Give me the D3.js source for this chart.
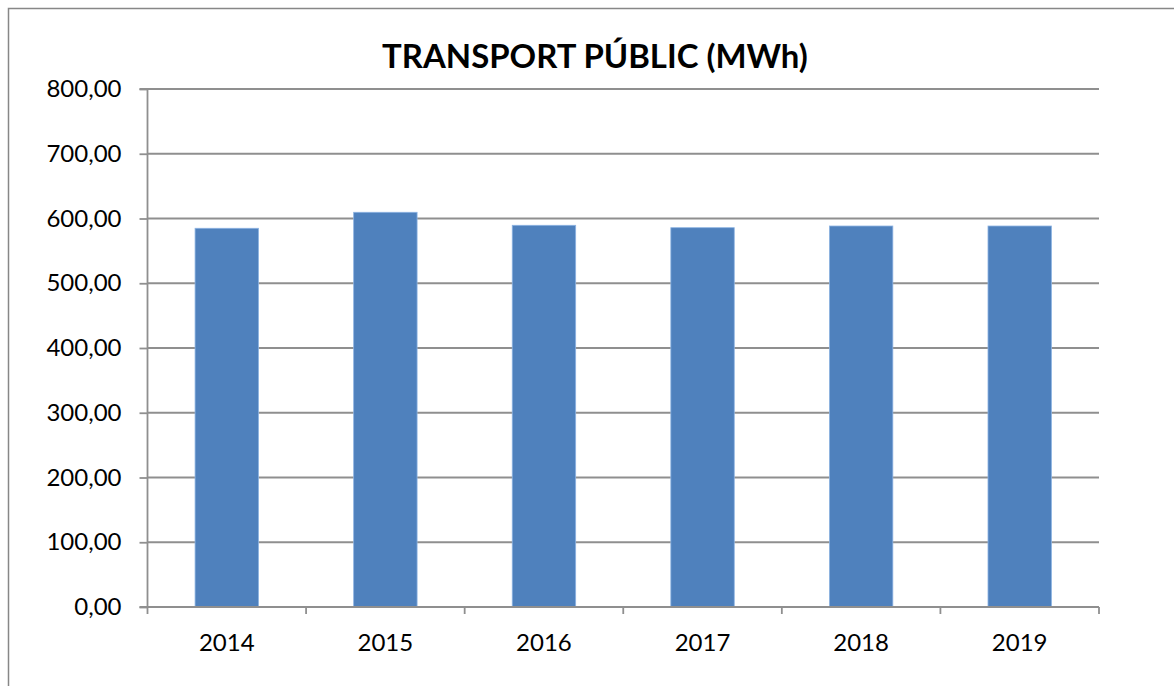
<!DOCTYPE html>
<html>
<head>
<meta charset="utf-8">
<script src="https://cdn.jsdelivr.net/npm/d3@7"></script>
<style>
  html, body { margin: 0; padding: 0; background: #fff; }
  svg { display: block; }
</style>
</head>
<body>
<svg id="chart" width="1174" height="686"></svg>
<script>
const title = "TRANSPORT PÚBLIC (MWh)";
const categories = ["2014", "2015", "2016", "2017", "2018", "2019"];
const values = [584.9, 609.6, 589.5, 585.8, 588.4, 588.4];
const yTicks = [0, 100, 200, 300, 400, 500, 600, 700, 800];

const svg = d3.select("#chart");
const W = 1174, H = 686;
const plot = { left: 147.5, right: 1099, top: 89, bottom: 607 };
const font = "Lato, 'Open Sans', sans-serif";

// outer chart frame (extends beyond right/bottom edge)
svg.append("path")
  .attr("d", `M8.5,${H + 5} L8.5,8.5 L${W + 5},8.5`)
  .attr("fill", "none").attr("stroke", "#878787").attr("stroke-width", 1.5);

const x = d3.scaleBand().domain(categories).range([plot.left, plot.right]).padding(0);
const y = d3.scaleLinear().domain([0, 800]).range([plot.bottom, plot.top]);
const fmt = v => d3.format(".2f")(v).replace(".", ",");

// gridlines
svg.append("g").selectAll("line").data(yTicks.filter(d => d > 0)).join("line")
  .attr("x1", plot.left).attr("x2", plot.right)
  .attr("y1", d => y(d)).attr("y2", d => y(d))
  .attr("stroke", "#8f8f8f").attr("stroke-width", 1.8);

// bars
const barW = x.bandwidth() * 0.4;
svg.append("g").selectAll("rect").data(values).join("rect")
  .attr("x", (d, i) => x(categories[i]) + (x.bandwidth() - barW) / 2)
  .attr("y", d => y(d))
  .attr("width", barW)
  .attr("height", d => y(0) - y(d))
  .attr("fill", "#4f81bd")
  .attr("stroke", "#8db3e2").attr("stroke-width", 0.8);

// y axis
const yAxis = d3.axisLeft(y).tickValues(yTicks).tickSize(8).tickPadding(18).tickFormat(fmt);
const gy = svg.append("g").attr("transform", `translate(${plot.left},0)`).call(yAxis);
gy.select(".domain").attr("stroke", "#8f8f8f").attr("stroke-width", 1.8)
  .attr("d", `M-8,${plot.top}H0V${plot.bottom}H-8`);
gy.selectAll(".tick line").attr("stroke", "#8f8f8f").attr("stroke-width", 1.8);
gy.selectAll(".tick text").attr("font-family", font).attr("font-size", 24).attr("fill", "#000");

// x axis: ticks at category boundaries
const gx = svg.append("g").attr("transform", `translate(0,${plot.bottom})`);
gx.append("line").attr("x1", plot.left).attr("x2", plot.right)
  .attr("stroke", "#8f8f8f").attr("stroke-width", 1.8);
const bounds = categories.map(c => x(c)).concat([plot.right]);
gx.selectAll("line.tk").data(bounds).join("line").attr("class", "tk")
  .attr("x1", d => d).attr("x2", d => d).attr("y1", 0).attr("y2", 7)
  .attr("stroke", "#8f8f8f").attr("stroke-width", 1.8);
gx.selectAll("text").data(categories).join("text")
  .attr("x", d => x(d) + x.bandwidth() / 2).attr("y", 44)
  .attr("text-anchor", "middle")
  .attr("font-family", font).attr("font-size", 24).attr("fill", "#000")
  .text(d => d);

// title, fitted to the reference width
const t = svg.append("text")
  .attr("x", 595).attr("y", 68).attr("text-anchor", "middle")
  .attr("font-family", font).attr("font-weight", "bold").attr("font-size", 34)
  .attr("fill", "#000").text(title);
const len = t.node().getComputedTextLength();
t.attr("font-size", 34 * 426 / len);
</script>
</body>
</html>
